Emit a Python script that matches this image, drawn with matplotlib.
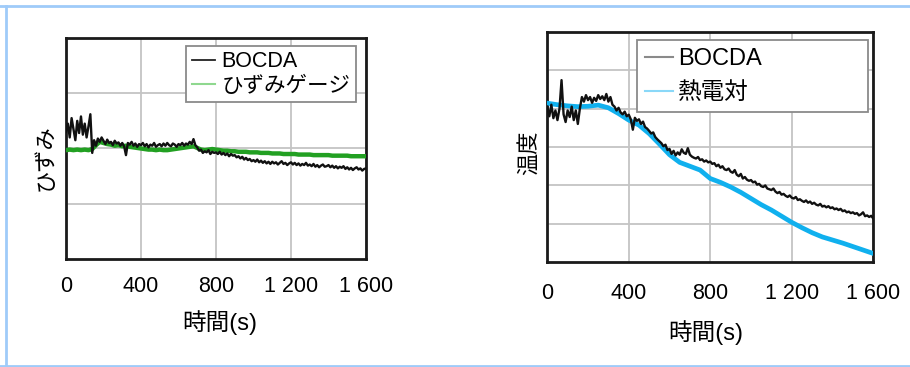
import numpy as np
import matplotlib
matplotlib.use('Agg')
import matplotlib.pyplot as plt
from matplotlib.lines import Line2D

plt.rcParams['font.family'] = ['Liberation Sans', 'Noto Sans CJK JP', 'DejaVu Sans']

# ---- data (y in grid units) ----
t_fine = np.arange(0, 1601, 10)      # BOCDA samples every 10 s
t_gauge = np.arange(0, 1601, 20)     # strain gauge every 20 s
t_tc = np.arange(0, 1601, 50)        # thermocouple every 50 s

strain_bocda = [
    2.30, 2.45, 2.20, 2.55, 2.35, 2.15, 2.50, 2.28, 2.58, 2.25,
    2.45, 2.20, 2.40, 2.62, 1.92, 2.15, 2.05, 2.18, 2.12, 2.20,
    2.14, 2.08, 2.16, 2.10, 2.12, 2.06, 2.14, 2.09, 2.11, 2.05,
    2.10, 2.04, 1.88, 2.10, 2.07, 2.12, 2.05, 2.09, 2.03, 2.08,
    2.06, 2.10, 2.04, 2.08, 2.02, 2.07, 2.05, 2.10, 2.03, 2.06,
    2.08, 2.04, 2.09, 2.05, 2.10, 2.06, 2.04, 2.09, 2.07, 2.03,
    2.08, 2.06, 2.10, 2.05, 2.09, 2.07, 2.12, 2.08, 2.17, 2.06,
    2.02, 1.96, 1.98, 1.92, 1.95, 1.93, 1.97, 1.90, 1.94, 1.92,
    1.93, 1.90, 1.94, 1.89, 1.92, 1.88, 1.91, 1.86, 1.90, 1.87,
    1.88, 1.84, 1.86, 1.82, 1.85, 1.80, 1.83, 1.79, 1.81, 1.77,
    1.79, 1.76, 1.80, 1.75, 1.78, 1.74, 1.77, 1.73, 1.76, 1.72,
    1.76, 1.73, 1.75, 1.71, 1.74, 1.77, 1.72, 1.74, 1.70, 1.73,
    1.75, 1.71, 1.74, 1.70, 1.73, 1.69, 1.72, 1.70, 1.74, 1.69,
    1.71, 1.68, 1.72, 1.67, 1.70, 1.66, 1.69, 1.71, 1.67, 1.68,
    1.70, 1.66, 1.69, 1.65, 1.68, 1.64, 1.67, 1.65, 1.68, 1.63,
    1.66, 1.62, 1.65, 1.61, 1.64, 1.66, 1.62, 1.64, 1.60, 1.63,
    1.64,
]

strain_gauge = [
    1.97, 1.98, 1.97, 1.98, 1.97, 1.98, 1.97, 1.99, 2.06, 2.12,
    2.10, 2.08, 2.07, 2.05, 2.06, 2.04, 2.05, 2.03, 2.02, 2.01,
    2.00, 1.99, 1.98, 1.98, 1.97, 1.98, 1.97, 1.97, 1.98, 1.99,
    2.00, 2.01, 2.02, 2.03, 2.04, 2.01, 1.98, 1.97, 1.98, 1.99,
    1.98, 1.97, 1.96, 1.96, 1.95, 1.95, 1.94, 1.94, 1.94, 1.93,
    1.93, 1.93, 1.92, 1.92, 1.92, 1.91, 1.91, 1.91, 1.90, 1.90,
    1.90, 1.90, 1.89, 1.89, 1.89, 1.89, 1.88, 1.88, 1.88, 1.88,
    1.88, 1.87, 1.87, 1.87, 1.87, 1.87, 1.86, 1.86, 1.86, 1.86,
    1.86,
]

temp_bocda = [
    4.05, 3.80, 4.10, 3.75, 3.95, 3.70, 4.00, 4.74, 3.85, 3.65,
    3.95, 3.78, 4.05, 3.70, 3.95, 3.60, 4.00, 4.30, 4.18, 4.35,
    4.22, 4.30, 4.15, 4.28, 4.20, 4.35, 4.25, 4.32, 4.22, 4.38,
    4.18, 4.30, 4.10, 4.05, 3.95, 4.02, 3.90, 3.85, 3.92, 3.80,
    3.84, 3.72, 3.45, 3.76, 3.68, 3.72, 3.60, 3.66, 3.52, 3.48,
    3.42, 3.35, 3.38, 3.26, 3.20, 3.15, 3.10, 3.02, 3.06, 2.92,
    2.95, 2.82, 2.90, 2.78, 2.86, 2.80, 2.94, 2.85, 2.82, 2.97,
    2.80, 2.75, 2.72, 2.70, 2.74, 2.66, 2.68, 2.62, 2.65, 2.60,
    2.62, 2.56, 2.58, 2.50, 2.54, 2.46, 2.50, 2.42, 2.40, 2.44,
    2.36, 2.33, 2.40, 2.28, 2.24, 2.30, 2.18, 2.22, 2.15, 2.12,
    2.14, 2.08, 2.10, 2.02, 2.04, 1.98, 1.96, 2.00, 1.92, 1.90,
    1.88, 1.92, 1.84, 1.80, 1.83, 1.76, 1.78, 1.73, 1.70, 1.74,
    1.68, 1.66, 1.70, 1.62, 1.64, 1.60, 1.57, 1.61, 1.55, 1.58,
    1.52, 1.55, 1.50, 1.48, 1.52, 1.45, 1.47, 1.43, 1.46, 1.41,
    1.43, 1.38, 1.40, 1.36, 1.39, 1.33, 1.35, 1.30, 1.32, 1.28,
    1.30, 1.26, 1.28, 1.22, 1.25, 1.30, 1.20, 1.22, 1.18, 1.21,
    1.14,
]

temp_thermocouple = [
    4.14, 4.10, 4.07, 4.05, 4.06, 4.09, 4.02, 3.87, 3.70, 3.57,
    3.35, 3.08, 2.80, 2.60, 2.50, 2.40, 2.18, 2.08, 1.96, 1.82,
    1.66, 1.50, 1.36, 1.20, 1.04, 0.90, 0.77, 0.66, 0.58, 0.50,
    0.41, 0.32, 0.23,
]

x_ticks = [0, 400, 800, 1200, 1600]
x_tick_labels = ['0', '400', '800', '1 200', '1 600']

fig = plt.figure(figsize=(9.1, 3.67), dpi=100)
ax1 = fig.add_axes([0.0725, 0.2943, 0.3297, 0.6022])
ax2 = fig.add_axes([0.6014, 0.2853, 0.3582, 0.6283])


def style_axis(ax, ymax):
    ax.set_xlim(0, 1600)
    ax.set_ylim(0, ymax)
    ax.set_xticks(x_ticks)
    ax.set_xticklabels(x_tick_labels)
    ax.set_yticks(range(1, ymax))
    ax.set_yticklabels([])
    ax.tick_params(length=0, labelsize=15.5)
    ax.grid(True, color='#c4c4c4', linewidth=1.3)
    ax.set_axisbelow(True)
    for s in ax.spines.values():
        s.set_linewidth(2.0)
        s.set_color('#1a1a1a')


# left: strain
style_axis(ax1, 4)
ax1.tick_params(axis='x', pad=12)
ax1.plot(t_gauge, strain_gauge, color='#22a022', linewidth=3.2, zorder=3)
ax1.plot(t_fine, strain_bocda, color='#111111', linewidth=1.7, zorder=4)
ax1.set_ylabel('ひずみ', fontsize=16)
ax1.yaxis.set_label_coords(-0.03, 0.46)
ax1.set_xlabel('時間(s)', fontsize=17)
ax1.xaxis.set_label_coords(0.513, -0.23)
h1 = [Line2D([], [], color='#222222', linewidth=1.3),
      Line2D([], [], color='#8fd88f', linewidth=1.5)]
leg1 = ax1.legend(h1, ['BOCDA', 'ひずみゲージ'], loc='upper right',
                  bbox_to_anchor=(0.967, 0.964), fontsize=15.5, fancybox=False,
                  handlelength=1.1, handletextpad=0.3, labelspacing=0.15,
                  borderpad=0.25, borderaxespad=0, framealpha=1)
leg1.get_frame().set_edgecolor('#8a8a8a')
leg1.get_frame().set_linewidth(1.3)

# right: temperature
style_axis(ax2, 6)
ax2.tick_params(axis='x', pad=15)
ax2.plot(t_fine, temp_bocda, color='#111111', linewidth=1.7, zorder=4)
ax2.plot(t_tc, temp_thermocouple, color='#10b0ee', linewidth=3.4, zorder=3)
ax2.set_ylabel('温度', fontsize=16)
ax2.yaxis.set_label_coords(-0.022, 0.474)
ax2.set_xlabel('時間(s)', fontsize=17)
ax2.xaxis.set_label_coords(0.487, -0.25)
h2 = [Line2D([], [], color='#8a8a8a', linewidth=1.5),
      Line2D([], [], color='#8ad8f8', linewidth=1.5)]
leg2 = ax2.legend(h2, ['BOCDA', '熱電対'], loc='upper left',
                  bbox_to_anchor=(0.274, 0.964, 0.711, 0.0), mode='expand',
                  fontsize=17, fancybox=False, handlelength=1.2,
                  handletextpad=0.2, labelspacing=0.5, borderpad=0.35,
                  borderaxespad=0, framealpha=1)
leg2.get_frame().set_edgecolor('#8a8a8a')
leg2.get_frame().set_linewidth(1.3)
leg2._legend_box.align = 'left'

# light-blue page frame (top, left, bottom)
frame_col = '#9fcbf9'
fig.add_artist(Line2D([0, 1], [0.985, 0.985], transform=fig.transFigure,
                      color=frame_col, linewidth=2.0))
fig.add_artist(Line2D([0.0066, 0.0066], [0.004, 0.985], transform=fig.transFigure,
                      color=frame_col, linewidth=2.0))
fig.add_artist(Line2D([0, 1], [0.004, 0.004], transform=fig.transFigure,
                      color=frame_col, linewidth=2.0))

fig.savefig('out.png', dpi=100, facecolor='white')
